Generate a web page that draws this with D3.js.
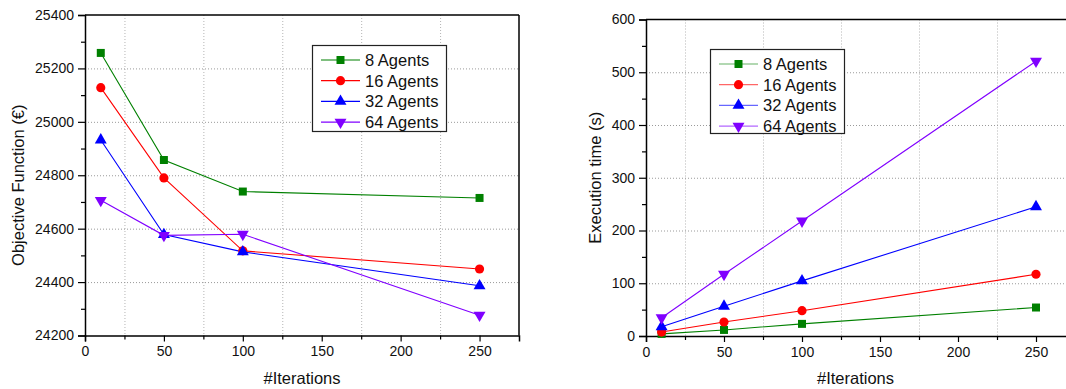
<!DOCTYPE html>
<html>
<head>
<meta charset="utf-8">
<script src="https://cdn.jsdelivr.net/npm/d3@7"></script>
<style>
  body { margin: 0; background: #fff; }
  svg { display: block; font-family: "Liberation Sans", Arial, sans-serif; }
</style>
</head>
<body>
<script>
// iterations on the x axis (both panels)
var iterations = [10, 50, 100, 250];
var seriesNames = ["8 Agents", "16 Agents", "32 Agents", "64 Agents"];
var seriesColors = ["#008000", "#ff0000", "#0000ff", "#8000ff"];

// left panel: objective function (€)
var objective8  = [25258, 24857, 24739, 24715];
var objective16 = [25128, 24790, 24517, 24449];
var objective32 = [24932, 24578, 24513, 24386];
var objective64 = [24706, 24575, 24579, 24276];

// right panel: execution time (s)
var time8  = [4, 11.5, 23, 54];
var time16 = [7.5, 26.5, 48, 117];
var time32 = [17.5, 56.5, 104.5, 245];
var time64 = [34.5, 117, 218, 521];

var xTicks = [0, 50, 100, 150, 200, 250];
var xMinor = [25, 75, 125, 175, 225];
var objTicks = [24200, 24400, 24600, 24800, 25000, 25200, 25400];
var objMinor = [24300, 24500, 24700, 24900, 25100, 25300];
var timeTicks = [0, 100, 200, 300, 400, 500, 600];
var timeMinor = [50, 150, 250, 350, 450, 550];

var W = 1066, H = 389;
var svg = d3.select("body").append("svg")
    .attr("width", W)
    .attr("height", H);

var shapes = [
  { type: d3.symbolSquare, size: 64, rot: 0 },
  { type: d3.symbolCircle, size: 66, rot: 0 },
  { type: d3.symbolTriangle, size: 62, rot: 0 },
  { type: d3.symbolTriangle, size: 62, rot: 180 }
];

function drawPanel(p) {
  var x = d3.scaleLinear().domain([0, 275]).range([p.left, p.right]);
  var y = d3.scaleLinear().domain(p.yDomain).range([p.bottom, p.top]);
  var g = svg.append("g");

  // dotted grid: verticals at the minor x ticks, horizontals at major y ticks
  g.selectAll(".vg").data(xMinor).enter().append("line")
      .attr("x1", function(d) { return x(d) + 0.5; })
      .attr("x2", function(d) { return x(d) + 0.5; })
      .attr("y1", p.top).attr("y2", p.bottom)
      .attr("stroke", "#b4b4b4").attr("stroke-dasharray", "1,2");
  g.selectAll(".hg").data(p.yTicks.slice(1, -1)).enter().append("line")
      .attr("x1", p.left).attr("x2", p.right)
      .attr("y1", function(d) { return y(d) + 0.5; })
      .attr("y2", function(d) { return y(d) + 0.5; })
      .attr("stroke", "#9a9a9a").attr("stroke-dasharray", "1,2");

  // frame (top / right)
  g.append("line").attr("x1", p.left).attr("x2", p.right)
      .attr("y1", p.top).attr("y2", p.top)
      .attr("stroke", "#000").attr("stroke-width", 1.5);
  g.append("line").attr("x1", p.right).attr("x2", p.right)
      .attr("y1", p.top).attr("y2", p.bottom)
      .attr("stroke", "#000").attr("stroke-width", 1.5);

  // axes
  g.append("g").attr("transform", "translate(0," + p.bottom + ")")
      .call(d3.axisBottom(x).tickValues(xTicks).tickSize(6).tickPadding(5).tickFormat(d3.format("d")));
  g.append("g").attr("transform", "translate(0," + p.bottom + ")")
      .call(d3.axisBottom(x).tickValues(xMinor).tickSize(4).tickFormat(""))
      .select(".domain").remove();
  g.append("g").attr("transform", "translate(" + p.left + ",0)")
      .call(d3.axisLeft(y).tickValues(p.yTicks).tickSize(7).tickPadding(4).tickFormat(d3.format("d")));
  g.append("g").attr("transform", "translate(" + p.left + ",0)")
      .call(d3.axisLeft(y).tickValues(p.yMinor).tickSize(4).tickFormat(""))
      .select(".domain").remove();

  g.selectAll(".domain").attr("stroke-width", 1.5);
  g.selectAll(".tick line").attr("stroke-width", 1.2);
  g.selectAll(".tick text")
      .attr("font-family", "Liberation Sans, Arial, sans-serif")
      .attr("font-size", 14).attr("fill", "#111");

  // axis titles
  g.append("text")
      .attr("x", (p.left + p.right) / 2 + (p.xTitleShift || 0))
      .attr("y", 384)
      .attr("text-anchor", "middle")
      .attr("font-size", 16.5).attr("fill", "#111")
      .text("#Iterations");
  g.append("text")
      .attr("transform", "translate(" + p.yTitleX + "," + ((p.top + p.bottom) / 2 + (p.yTitleShift || 0)) + ") rotate(-90)")
      .attr("text-anchor", "middle")
      .attr("font-size", 16.5).attr("fill", "#111")
      .text(p.yTitle);

  // series
  var line = d3.line()
      .x(function(d) { return x(d[0]); })
      .y(function(d) { return y(d[1]); });
  p.series.forEach(function(vals, i) {
    var pts = iterations.map(function(it, j) { return [it, vals[j]]; });
    g.append("path").datum(pts)
        .attr("d", line)
        .attr("fill", "none")
        .attr("stroke", seriesColors[i])
        .attr("stroke-width", 1.1);
  });
  p.series.forEach(function(vals, i) {
    var pts = iterations.map(function(it, j) { return [it, vals[j]]; });
    var sh = shapes[i];
    g.selectAll(".m" + i).data(pts).enter().append("path")
        .attr("d", d3.symbol().type(sh.type).size(sh.size))
        .attr("transform", function(d) {
          return "translate(" + x(d[0]) + "," + y(d[1]) + ") rotate(" + sh.rot + ")";
        })
        .attr("fill", seriesColors[i]);
  });

  // legend
  var L = p.legend;
  g.append("rect")
      .attr("x", L.x + 0.5).attr("y", L.y + 0.5)
      .attr("width", L.w).attr("height", L.h)
      .attr("fill", "#fff").attr("stroke", "#222").attr("stroke-width", 1.2);
  seriesNames.forEach(function(name, i) {
    var ry = L.y + 15 + i * 20.7;
    g.append("line")
        .attr("x1", L.x + 9).attr("x2", L.x + 48)
        .attr("y1", ry).attr("y2", ry)
        .attr("stroke", seriesColors[i])
        .attr("stroke-width", 1.2)
        .attr("stroke-opacity", L.lineOpacity);
    var sh = shapes[i];
    g.append("path")
        .attr("d", d3.symbol().type(sh.type).size(sh.size))
        .attr("transform", "translate(" + (L.x + 28.5) + "," + ry + ") rotate(" + sh.rot + ")")
        .attr("fill", seriesColors[i]);
    g.append("text")
        .attr("x", L.x + 53).attr("y", ry + 6)
        .attr("font-size", 16.5).attr("fill", "#111")
        .text(name);
  });
}

drawPanel({
  left: 85, right: 519, top: 15, bottom: 335.5,
  yDomain: [24200, 25400], yTicks: objTicks, yMinor: objMinor,
  yTitle: "Objective Function (\u20AC)", yTitleX: 24, yTitleShift: 10,
  series: [objective8, objective16, objective32, objective64],
  legend: { x: 312, y: 45, w: 134, h: 86, lineOpacity: 1 }
});

drawPanel({
  left: 646, right: 1075, top: 19.5, bottom: 336,
  yDomain: [0, 600], yTicks: timeTicks, yMinor: timeMinor,
  yTitle: "Execution time (s)", yTitleX: 601,
  xTitleShift: -5,
  series: [time8, time16, time32, time64],
  legend: { x: 710, y: 49, w: 134, h: 84, lineOpacity: 0.6 }
});
</script>
</body>
</html>
